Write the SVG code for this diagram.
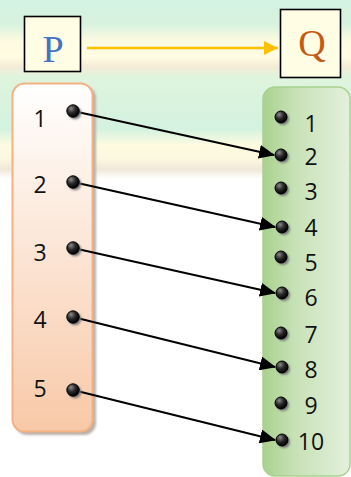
<svg xmlns="http://www.w3.org/2000/svg" width="351" height="477" viewBox="0 0 351 477">
<defs>
<linearGradient id="bg" x1="0" y1="0" x2="0" y2="477" gradientUnits="userSpaceOnUse">
<stop offset="0" stop-color="#d4f2e1"/>
<stop offset="0.05" stop-color="#d7f3df"/>
<stop offset="0.085" stop-color="#fcfae0"/>
<stop offset="0.12" stop-color="#fffce2"/>
<stop offset="0.14" stop-color="#f5ebd6"/>
<stop offset="0.16" stop-color="#dff4dd"/>
<stop offset="0.27" stop-color="#d3f2e0"/>
<stop offset="0.305" stop-color="#fefbe0"/>
<stop offset="0.335" stop-color="#fcf6df"/>
<stop offset="0.355" stop-color="#f0e7da"/>
<stop offset="0.375" stop-color="#ffffff"/>
<stop offset="1" stop-color="#ffffff"/>
</linearGradient>
<linearGradient id="lbox" x1="0" y1="0" x2="0" y2="1">
<stop offset="0" stop-color="#ffffff"/>
<stop offset="1" stop-color="#f8c9a8"/>
</linearGradient>
<linearGradient id="rbox" x1="0" y1="0" x2="1" y2="0">
<stop offset="0" stop-color="#a9d18e"/>
<stop offset="0.35" stop-color="#c6e1b5"/>
<stop offset="1" stop-color="#e4f0dc"/>
</linearGradient>
<radialGradient id="dotg" cx="0.35" cy="0.3" r="0.7">
<stop offset="0" stop-color="#8a8a8a"/>
<stop offset="0.5" stop-color="#2a2a2a"/>
<stop offset="1" stop-color="#000000"/>
</radialGradient>
<filter id="sh" x="-20%" y="-20%" width="140%" height="140%">
<feGaussianBlur stdDeviation="1"/>
</filter>
<marker id="ah" markerUnits="userSpaceOnUse" markerWidth="16" markerHeight="14" refX="15" refY="7" orient="auto">
<path d="M0,0 L16,7 L0,14 Z" fill="#000"/>
</marker>
<marker id="ahy" markerUnits="userSpaceOnUse" markerWidth="14" markerHeight="14" refX="14" refY="7" orient="auto">
<path d="M0,0 L14,7 L0,14 Z" fill="#ffc000"/>
</marker>
<style>
.lbl{font-family:"Open Sans","Noto Sans","Liberation Sans",sans-serif;font-size:23px;fill:#111;text-anchor:middle}
.dot{fill:url(#dotg);stroke:#000;stroke-width:1}
.dsh{fill:#777;filter:url(#sh)}
.conn{stroke:#000;stroke-width:2;fill:none;marker-end:url(#ah)}
.hdr{fill:#fffde3;stroke:#000;stroke-width:1.6}
.big{font-family:"Liberation Serif","Times New Roman",serif;font-size:38px;text-anchor:middle}
</style>
</defs>
<rect x="0" y="0" width="351" height="477" fill="url(#bg)"/>

<g id="node-P">
<rect class="hdr" x="24.5" y="16.5" width="56" height="55"/>
<text class="big" x="53" y="62" fill="#4472c4">P</text>
</g>
<g id="node-Q">
<rect class="hdr" x="280.5" y="9.5" width="60" height="68"/>
<text class="big" x="312" y="56" fill="#c55a11">Q</text>
</g>

<g id="set-P">
<rect x="15" y="86" width="81" height="349" rx="12" fill="#b9b0aa" filter="url(#sh)"/>
<rect x="12.5" y="83.5" width="80" height="348" rx="12" fill="url(#lbox)" stroke="#f4b183" stroke-width="2"/>
<text class="lbl" x="40" y="127">1</text>
<text class="lbl" x="40" y="193">2</text>
<text class="lbl" x="40" y="261">3</text>
<text class="lbl" x="40" y="328">4</text>
<text class="lbl" x="40" y="397">5</text>
</g>

<g id="set-Q">
<rect x="263" y="87" width="87" height="389" rx="12" fill="url(#rbox)" stroke="#a9d18e" stroke-width="1.5"/>
<text class="lbl" x="311" y="132">1</text>
<text class="lbl" x="311" y="165">2</text>
<text class="lbl" x="311" y="200">3</text>
<text class="lbl" x="311" y="236">4</text>
<text class="lbl" x="311" y="271">5</text>
<text class="lbl" x="311" y="306">6</text>
<text class="lbl" x="311" y="343">7</text>
<text class="lbl" x="311" y="378">8</text>
<text class="lbl" x="311" y="414">9</text>
<text class="lbl" x="311" y="450">10</text>
</g>

<g id="connectors">
<line x1="87" y1="48" x2="278" y2="48" stroke="#ffc000" stroke-width="2.5" marker-end="url(#ahy)"/>
<line class="conn" x1="73" y1="111" x2="274" y2="155"/>
<line class="conn" x1="73" y1="182" x2="275" y2="227"/>
<line class="conn" x1="73" y1="248" x2="275" y2="293"/>
<line class="conn" x1="73" y1="317" x2="275" y2="367"/>
<line class="conn" x1="73" y1="390" x2="275" y2="440"/>
</g>

<g id="dots-P">
<circle class="dsh" cx="75" cy="113" r="6.2"/><circle class="dot" cx="73" cy="111" r="6.2"/>
<circle class="dsh" cx="75" cy="184" r="6.2"/><circle class="dot" cx="73" cy="182" r="6.2"/>
<circle class="dsh" cx="75" cy="250" r="6.2"/><circle class="dot" cx="73" cy="248" r="6.2"/>
<circle class="dsh" cx="75" cy="319" r="6.2"/><circle class="dot" cx="73" cy="317" r="6.2"/>
<circle class="dsh" cx="75" cy="392" r="6.2"/><circle class="dot" cx="73" cy="390" r="6.2"/>
</g>
<g id="dots-Q">
<circle class="dsh" cx="283" cy="119" r="6"/><circle class="dot" cx="281" cy="117" r="6"/>
<circle class="dsh" cx="283" cy="157" r="6"/><circle class="dot" cx="281" cy="155" r="6"/>
<circle class="dsh" cx="283" cy="190" r="6"/><circle class="dot" cx="281" cy="188" r="6"/>
<circle class="dsh" cx="284" cy="229" r="6"/><circle class="dot" cx="282" cy="227" r="6"/>
<circle class="dsh" cx="283" cy="259" r="6"/><circle class="dot" cx="281" cy="257" r="6"/>
<circle class="dsh" cx="284" cy="295" r="6"/><circle class="dot" cx="282" cy="293" r="6"/>
<circle class="dsh" cx="283" cy="335" r="6"/><circle class="dot" cx="281" cy="333" r="6"/>
<circle class="dsh" cx="284" cy="369" r="6"/><circle class="dot" cx="282" cy="367" r="6"/>
<circle class="dsh" cx="283" cy="405" r="6"/><circle class="dot" cx="281" cy="403" r="6"/>
<circle class="dsh" cx="284" cy="442" r="6"/><circle class="dot" cx="282" cy="440" r="6"/>
</g>
</svg>
